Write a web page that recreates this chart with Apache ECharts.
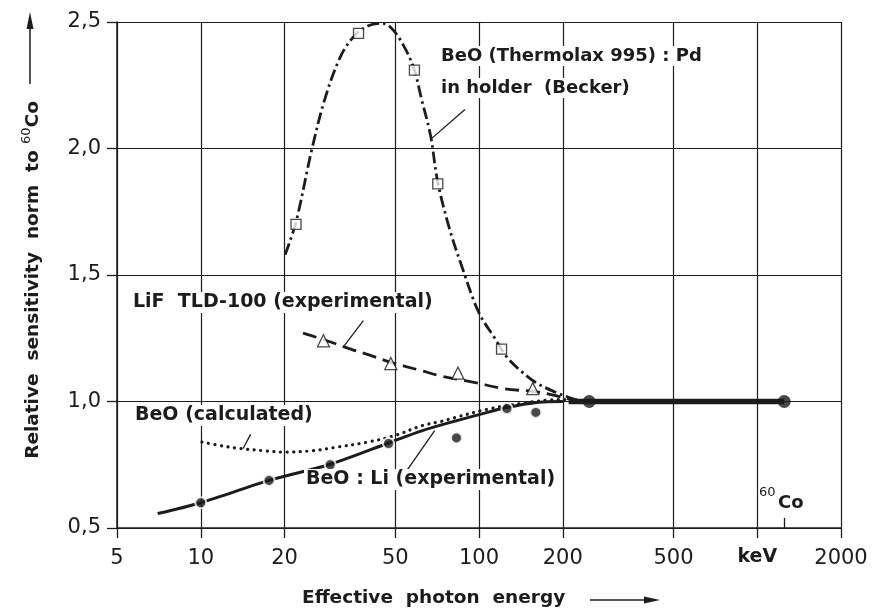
<!DOCTYPE html>
<html><head><meta charset="utf-8">
<script src="https://cdn.jsdelivr.net/npm/echarts@6/dist/echarts.min.js"></script>
<style>html,body{margin:0;padding:0;background:#fff}#c{width:879px;height:612px}</style>
</head><body><div id="c"></div>
<script>
// axis ticks
const xTicks = [5, 10, 20, 50, 100, 200, 500, 1000, 2000];
const xTickLabels = ['5', '10', '20', '50', '100', '200', '500', 'keV', '2000'];
const yTicks = [0.5, 1.0, 1.5, 2.0, 2.5];

// BeO (Thermolax 995):Pd in holder (Becker) - dash-dot curve
const thermoX = [20.1, 22, 25, 28, 32, 36, 40, 45, 49, 54, 58.6, 62, 67, 71, 78, 87, 100, 114, 125, 140, 160, 189, 211, 235];
const thermoY = [1.58, 1.71, 1.99, 2.20, 2.37, 2.45, 2.485, 2.495, 2.47, 2.40, 2.31, 2.20, 2.05, 1.87, 1.69, 1.53, 1.35, 1.25, 1.18, 1.125, 1.075, 1.036, 1.016, 1.0];
const thermoPtsX = [22.0, 36.9, 58.6, 71.1, 120.5];
const thermoPtsY = [1.70, 2.455, 2.31, 1.86, 1.207];

// LiF TLD-100 (experimental) - dashed curve
const lifX = [23.3, 27.6, 35, 40, 48.2, 62, 73.5, 84, 95, 124, 156, 180, 211, 235];
const lifY = [1.27, 1.245, 1.205, 1.185, 1.155, 1.122, 1.10, 1.088, 1.077, 1.05, 1.04, 1.028, 1.01, 1.0];
const lifPtsX = [27.6, 48.2, 84, 156];
const lifPtsY = [1.24, 1.15, 1.112, 1.051];

// BeO (calculated) - dotted curve
const calcX = [10.1, 12, 13.9, 17, 20, 25, 30.2, 40, 50, 62.2, 73.5, 82.2, 108, 143, 178.5, 204, 230];
const calcY = [0.84, 0.824, 0.814, 0.805, 0.80, 0.805, 0.818, 0.84, 0.866, 0.904, 0.922, 0.937, 0.97, 0.993, 1.006, 1.008, 1.0];

// BeO:Li (experimental) - solid curve
const liX = [7.0, 10, 17.6, 29.2, 47.3, 62.2, 82.2, 100, 124.4, 164, 200];
const liY = [0.557, 0.60, 0.688, 0.752, 0.836, 0.884, 0.923, 0.948, 0.975, 0.997, 1.0];
const liPtsX = [10, 17.6, 29.2, 47.3, 83, 126, 160];
const liPtsY = [0.60, 0.688, 0.75, 0.834, 0.856, 0.972, 0.957];

// common plateau up to 60Co
const plateauX = [210, 1250];
const plateauY = [1.0, 1.0];
const bigPtsX = [249, 1250];
const bigPtsY = [1.0, 1.0];
const coEnergy = 1250;

const zip = (a, b) => a.map((v, i) => [v, b[i]]);
const INK = '#1c1c1c';
const FONT = 'DejaVu Sans';

const chart = echarts.init(document.getElementById('c'), null, {renderer: 'canvas'});

const leader = (x1, y1, x2, y2) => [{coord: [x1, y1]}, {coord: [x2, y2]}];
const lab = (text, left, top, size) => ({type: 'text', left, top, z: 100,
  style: {text, font: 'bold ' + size + 'px ' + FONT, fill: INK, backgroundColor: '#fff', padding: [1, 2]}});

chart.setOption({
  animation: false,
  backgroundColor: '#fff',
  grid: {left: 117, right: 38, top: 22, bottom: 84},
  xAxis: {
    type: 'log', logBase: 10, min: 5, max: 2000,
    axisLine: {show: true, lineStyle: {color: INK, width: 1.5}},
    axisTick: {show: true, customValues: xTicks, length: 10, lineStyle: {color: INK, width: 1.3}},
    axisLabel: {
      customValues: xTicks, margin: 20, color: INK, fontFamily: FONT, fontSize: 21,
      formatter: v => { const i = xTicks.indexOf(Math.round(v)); const s = i >= 0 ? xTickLabels[i] : ''; return s === 'keV' ? '{b|keV}' : s; },
      rich: {b: {fontWeight: 'bold', fontFamily: FONT, fontSize: 19, color: INK}}
    },
    splitLine: {show: true, lineStyle: {color: INK, width: 1.2}},
    minorSplitLine: {show: false}
  },
  yAxis: {
    type: 'value', min: 0.5, max: 2.5, interval: 0.5,
    axisLine: {show: true, lineStyle: {color: INK, width: 1.5}},
    axisTick: {show: true, length: 10, lineStyle: {color: INK, width: 1.3}},
    axisLabel: {margin: 16, color: INK, fontFamily: FONT, fontSize: 21,
      formatter: v => v.toFixed(1).replace('.', ',')},
    splitLine: {show: true, lineStyle: {color: INK, width: 1.2}}
  },
  series: [
    {type: 'line', data: zip(thermoX, thermoY), smooth: 0.35, showSymbol: false, z: 3,
     lineStyle: {color: INK, width: 2.8, type: [12, 4, 2.5, 4]}},
    {type: 'scatter', data: zip(thermoPtsX, thermoPtsY), symbol: 'rect', symbolSize: 10, z: 6,
     itemStyle: {color: '#fff', borderColor: INK, borderWidth: 1.3}},
    {type: 'line', data: zip(lifX, lifY), smooth: 0.35, showSymbol: false, z: 3,
     lineStyle: {color: INK, width: 2.8, type: [14, 7]}},
    {type: 'scatter', data: zip(lifPtsX, lifPtsY), symbol: 'triangle', symbolSize: 12, z: 6,
     itemStyle: {color: '#fff', borderColor: INK, borderWidth: 1.3}},
    {type: 'line', data: zip(calcX, calcY), smooth: 0.35, showSymbol: false, z: 3,
     lineStyle: {color: INK, width: 3.2, type: [0.1, 6.5], cap: 'round'}},
    {type: 'line', data: zip(liX, liY), smooth: 0.3, showSymbol: false, z: 4,
     lineStyle: {color: INK, width: 3}},
    {type: 'scatter', data: zip(liPtsX, liPtsY), symbol: 'circle', symbolSize: 11, z: 7,
     itemStyle: {color: INK, borderColor: '#fff', borderWidth: 2}},
    {type: 'line', data: zip(plateauX, plateauY), showSymbol: false, z: 5,
     lineStyle: {color: INK, width: 5.5},
     markLine: {
       silent: true, symbol: ['none', 'none'], label: {show: false},
       lineStyle: {color: INK, width: 1.3, type: 'solid'},
       data: [
         leader(coEnergy, 0.5, coEnergy, 0.54),
         leader(89, 2.154, 67.6, 2.04),
         leader(38.4, 1.32, 32.8, 1.221),
         leader(15.1, 0.87, 14.2, 0.814),
         leader(55, 0.727, 69.3, 0.885)
       ]
     }},
    {type: 'scatter', data: zip(bigPtsX, bigPtsY), symbol: 'circle', symbolSize: 13, z: 8,
     itemStyle: {color: INK}}
  ],
  graphic: [
    lab('BeO (Thermolax 995) : Pd', 439, 46, 18),
    lab('in holder  (Becker)', 439, 78, 18),
    lab('LiF  TLD-100 (experimental)', 131, 292, 19),
    lab('BeO (calculated)', 133, 405, 19),
    lab('BeO : Li (experimental)', 304, 469, 19),
    {type: 'text', left: 759, top: 486, z: 100, style: {text: '60', font: '13px ' + FONT, fill: INK}},
    {type: 'text', left: 778, top: 494, z: 100, style: {text: 'Co', font: 'bold 18px ' + FONT, fill: INK}},
    // x axis name with arrow
    {type: 'text', left: 302, top: 589, z: 100, style: {text: 'Effective  photon  energy', font: 'bold 18.5px ' + FONT, fill: INK}},
    {type: 'line', z: 100, shape: {x1: 590, y1: 600, x2: 648, y2: 600}, style: {stroke: INK, lineWidth: 1.5}},
    {type: 'polygon', z: 100, shape: {points: [[660, 600], [644, 596.5], [644, 603.5]]}, style: {fill: INK}},
    // y axis name with arrow (rotated)
    {type: 'text', x: 33, y: 280, rotation: Math.PI / 2, z: 100,
     style: {text: 'Relative  sensitivity  norm  to {s|60}{m|Co}', font: 'bold 18.5px ' + FONT, fill: INK, align: 'center', verticalAlign: 'middle',
       rich: {s: {fontSize: 13, fontWeight: 'normal', fontFamily: FONT, verticalAlign: 'top', lineHeight: 26, padding: [0, 0, 12, 0]},
              m: {fontSize: 18.5, fontWeight: 'bold', fontFamily: FONT}}}},
    {type: 'line', z: 100, shape: {x1: 30, y1: 84, x2: 30, y2: 26}, style: {stroke: INK, lineWidth: 1.5}},
    {type: 'polygon', z: 100, shape: {points: [[30, 12], [26.5, 29], [33.5, 29]]}, style: {fill: INK}}
  ]
});
</script></body></html>
